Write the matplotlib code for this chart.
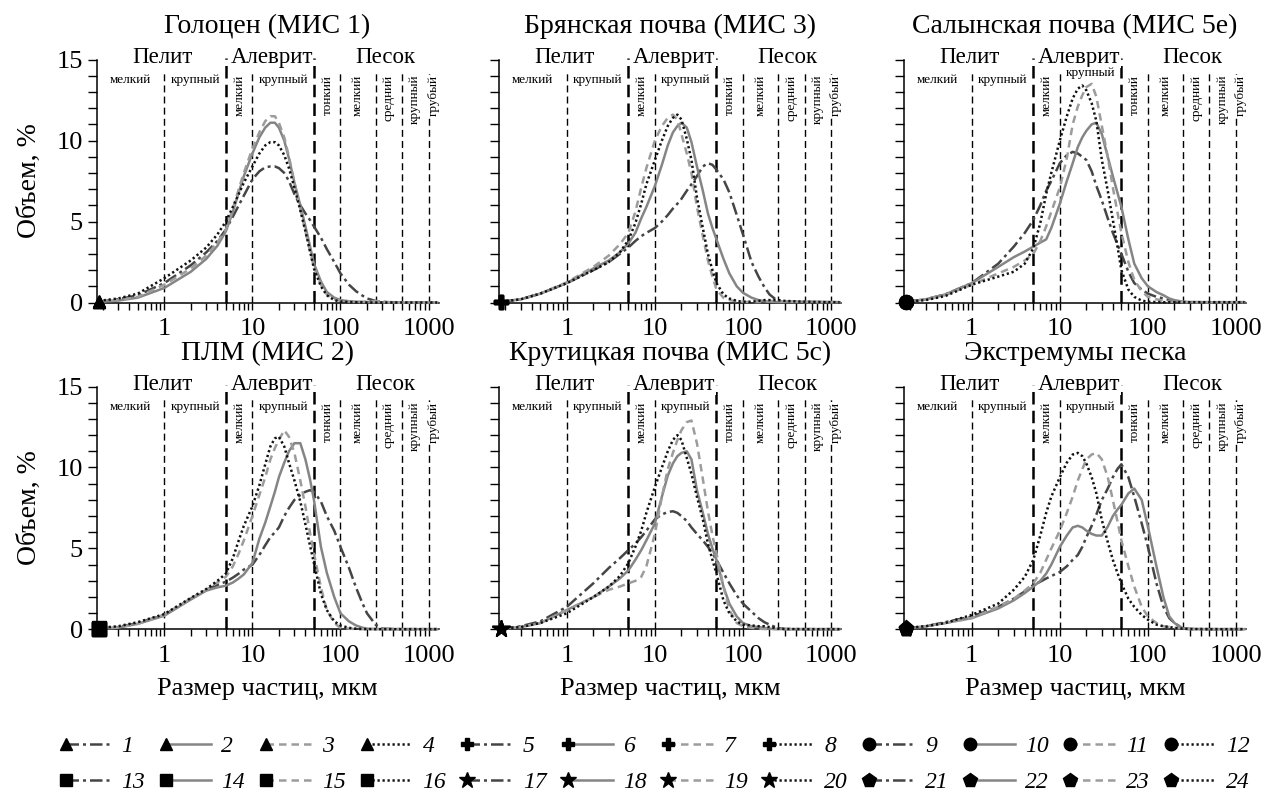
import matplotlib
matplotlib.use('Agg')
import matplotlib.pyplot as plt
from matplotlib.lines import Line2D
from matplotlib.legend_handler import HandlerLine2D
from matplotlib.ticker import FixedLocator, LogLocator, NullFormatter, MultipleLocator

plt.rcParams['font.family'] = ['Liberation Serif', 'DejaVu Serif']

# размер частиц, мкм
size = [0.18, 0.3, 0.5,
        1, 2, 3, 4, 5, 6, 7, 8,
        10, 12, 14, 16, 18, 20, 23, 26, 30, 35, 40, 45, 50, 60, 70, 85,
        100, 125, 150, 175, 200, 250, 300, 500,
        1000, 1250]

# Голоцен (МИС 1)
c01 = [0.05, 0.2, 0.45, 1.2, 2.3, 3.1, 3.8, 4.5, 5.3, 6.0, 6.6,
       7.6, 8.1, 8.35, 8.4, 8.4, 8.3, 8.0, 7.5, 6.7, 6.0, 5.5, 5.1, 4.7, 4.0, 3.3, 2.5,
       1.8, 1.1, 0.7, 0.45, 0.25, 0.1, 0.04, 0.0, 0.0, 0.0]
c02 = [0.05, 0.12, 0.3, 0.9, 1.9, 2.7, 3.5, 4.4, 5.6, 6.8, 7.8,
       9.2, 10.2, 10.8, 11.1, 11.1, 10.8, 10.0, 8.9, 7.4, 6.0, 4.7, 3.5, 2.4, 1.3, 0.65, 0.3,
       0.15, 0.08, 0.05, 0.04, 0.03, 0.02, 0.02, 0.0, 0.0, 0.0]
c03 = [0.06, 0.15, 0.35, 1.1, 2.1, 2.9, 3.7, 4.5, 5.8, 7.0, 8.0,
       9.5, 10.5, 11.2, 11.5, 11.5, 11.1, 10.2, 9.0, 7.4, 5.8, 4.4, 3.2, 2.2, 1.1, 0.5, 0.2,
       0.1, 0.06, 0.04, 0.04, 0.05, 0.1, 0.04, 0.0, 0.0, 0.0]
c04 = [0.1, 0.25, 0.55, 1.5, 2.6, 3.4, 4.2, 5.0, 5.9, 6.7, 7.4,
       8.4, 9.2, 9.7, 9.9, 9.9, 9.7, 9.1, 8.3, 7.1, 5.7, 4.4, 3.2, 2.1, 1.0, 0.45, 0.15,
       0.06, 0.03, 0.02, 0.01, 0.0, 0.0, 0.0, 0.0, 0.0, 0.0]

# Брянская почва (МИС 3)
c05 = [0.05, 0.2, 0.55, 1.2, 2.0, 2.5, 3.0, 3.4, 3.8, 4.1, 4.3,
       4.6, 5.0, 5.4, 5.8, 6.1, 6.4, 6.9, 7.3, 7.8, 8.4, 8.6, 8.5, 8.2, 7.6, 6.8, 5.4,
       4.2, 2.5, 1.6, 0.95, 0.5, 0.08, 0.05, 0.03, 0.02, 0.02]
c06 = [0.05, 0.2, 0.55, 1.2, 2.1, 2.6, 3.1, 3.65, 4.3, 5.2, 5.9,
       7.2, 8.5, 9.7, 10.5, 10.9, 11.1, 10.8, 9.9, 8.4, 6.9, 5.5, 4.6, 3.9, 2.7, 1.8, 1.0,
       0.6, 0.3, 0.15, 0.08, 0.05, 0.03, 0.03, 0.05, 0.03, 0.02]
c07 = [0.05, 0.2, 0.55, 1.25, 2.2, 2.9, 3.6, 4.3, 5.6, 7.1, 8.3,
       10.0, 10.9, 11.4, 11.6, 11.3, 10.4, 9.2, 8.0, 5.9, 4.1, 2.6, 1.6, 0.8, 0.3, 0.15, 0.08,
       0.05, 0.03, 0.03, 0.05, 0.1, 0.1, 0.05, 0.03, 0.02, 0.02]
c08 = [0.05, 0.2, 0.55, 1.2, 2.0, 2.5, 3.1, 3.85, 4.9, 6.1, 7.3,
       8.8, 10.0, 10.9, 11.4, 11.6, 11.3, 10.1, 8.8, 6.5, 4.6, 3.0, 2.0, 1.2, 0.5, 0.25, 0.1,
       0.05, 0.05, 0.1, 0.15, 0.15, 0.15, 0.1, 0.05, 0.02, 0.02]

# Салынская почва (МИС 5е)
c09 = [0.05, 0.2, 0.5, 1.2, 2.4, 3.45, 4.3, 5.1, 6.0, 6.9, 7.5,
       8.6, 9.1, 9.3, 9.2, 9.0, 8.8, 8.1, 7.2, 6.3, 5.2, 4.3, 3.6, 3.0, 1.9, 1.2, 0.8,
       0.55, 0.35, 0.25, 0.15, 0.08, 0.03, 0.02, 0.02, 0.02, 0.02]
c10 = [0.05, 0.2, 0.5, 1.2, 2.2, 2.8, 3.15, 3.45, 3.7, 3.9, 4.6,
       6.1, 7.5, 8.6, 9.6, 10.2, 10.6, 11.0, 11.1, 10.4, 9.0, 7.8, 6.8, 5.9, 3.9, 2.4, 1.5,
       1.0, 0.65, 0.45, 0.25, 0.15, 0.05, 0.03, 0.02, 0.02, 0.02]
c11 = [0.05, 0.2, 0.45, 1.1, 1.8, 2.2, 2.6, 3.0, 3.8, 4.7, 5.6,
       7.1, 8.9, 11.0, 12.1, 12.8, 13.3, 13.5, 12.7, 10.9, 9.0, 7.1, 5.6, 4.3, 2.5, 1.4, 0.7,
       0.35, 0.2, 0.1, 0.06, 0.04, 0.03, 0.02, 0.02, 0.02, 0.02]
c12 = [0.05, 0.15, 0.4, 1.1, 1.6, 1.9, 2.4, 3.35, 4.9, 6.7, 8.0,
       10.0, 11.5, 12.6, 13.2, 13.4, 13.1, 12.3, 11.2, 8.8, 6.9, 5.1, 3.5, 2.0, 0.8, 0.35, 0.12,
       0.05, 0.03, 0.02, 0.02, 0.02, 0.02, 0.02, 0.02, 0.02, 0.02]

# ПЛМ (МИС 2)
c13 = [0.05, 0.15, 0.4, 0.9, 1.9, 2.45, 2.75, 2.95, 3.2, 3.45, 3.7,
       4.0, 4.6, 5.2, 5.7, 6.0, 6.3, 7.0, 7.5, 8.0, 8.3, 8.5, 8.6, 8.5, 7.9, 7.0, 6.1,
       5.1, 3.8, 2.6, 1.7, 1.0, 0.3, 0.05, 0.02, 0.02, 0.02]
c14 = [0.05, 0.12, 0.35, 0.85, 1.85, 2.4, 2.6, 2.7, 2.9, 3.15, 3.4,
       4.1, 5.6, 6.6, 7.6, 8.5, 9.4, 10.3, 11.0, 11.5, 11.5, 10.5, 9.3, 8.0, 5.1, 3.5, 2.0,
       1.0, 0.5, 0.25, 0.12, 0.05, 0.03, 0.02, 0.02, 0.02, 0.02]
c15 = [0.05, 0.12, 0.35, 0.9, 1.9, 2.45, 2.9, 3.25, 3.9, 4.7, 5.5,
       7.0, 8.3, 9.4, 10.5, 11.2, 11.7, 12.3, 11.9, 10.9, 9.2, 7.6, 6.0, 4.7, 2.6, 1.2, 0.4,
       0.1, 0.05, 0.03, 0.02, 0.02, 0.02, 0.02, 0.02, 0.02, 0.02]
c16 = [0.1, 0.2, 0.45, 0.95, 1.95, 2.5, 3.0, 3.45, 4.4, 5.5, 6.4,
       7.6, 8.9, 10.2, 11.3, 11.8, 11.9, 11.3, 10.3, 9.2, 7.9, 6.5, 5.2, 4.1, 2.2, 1.2, 0.5,
       0.25, 0.1, 0.05, 0.03, 0.02, 0.02, 0.02, 0.02, 0.02, 0.02]

# Крутицкая почва (МИС 5с)
c17 = [0.05, 0.2, 0.5, 1.4, 2.85, 3.8, 4.4, 4.9, 5.3, 5.7, 6.1,
       6.8, 7.1, 7.25, 7.3, 7.2, 7.0, 6.7, 6.3, 5.9, 5.5, 5.1, 4.7, 4.3, 3.5, 2.85, 2.1,
       1.6, 1.1, 0.7, 0.45, 0.3, 0.08, 0.03, 0.02, 0.02, 0.02]
c18 = [0.05, 0.15, 0.4, 1.2, 2.0, 2.65, 3.15, 3.65, 4.3, 4.9, 5.5,
       6.55, 8.2, 9.5, 10.25, 10.7, 10.9, 11.0, 10.5, 8.6, 7.2, 5.9, 5.0, 4.3, 2.65, 1.6, 0.8,
       0.4, 0.2, 0.15, 0.1, 0.05, 0.03, 0.02, 0.02, 0.02, 0.02]
c19 = [0.05, 0.15, 0.4, 1.2, 2.0, 2.45, 2.65, 2.85, 3.0, 3.25, 3.9,
       5.9, 8.2, 9.9, 10.9, 11.7, 12.3, 12.8, 12.9, 11.5, 9.3, 7.3, 5.8, 4.7, 2.65, 1.2, 0.4,
       0.2, 0.1, 0.05, 0.03, 0.02, 0.02, 0.02, 0.02, 0.02, 0.02]
c20 = [0.05, 0.15, 0.4, 1.0, 2.0, 2.65, 3.3, 4.1, 5.1, 6.1, 7.2,
       8.8, 10.0, 11.0, 11.7, 12.0, 11.7, 10.6, 9.6, 8.2, 6.8, 5.3, 4.3, 3.45, 1.8, 1.0, 0.5,
       0.3, 0.25, 0.2, 0.2, 0.15, 0.05, 0.03, 0.02, 0.02, 0.02]

# Экстремумы песка
c21 = [0.05, 0.2, 0.45, 0.8, 1.4, 1.9, 2.35, 2.75, 2.95, 3.15, 3.3,
       3.55, 3.9, 4.3, 4.6, 5.1, 5.7, 6.4, 7.1, 8.0, 8.7, 9.4, 9.9, 10.2, 9.4, 8.2, 6.55,
       5.1, 2.85, 1.4, 0.7, 0.4, 0.05, 0.03, 0.02, 0.02, 0.02]
c22 = [0.05, 0.2, 0.4, 0.7, 1.3, 1.8, 2.25, 2.65, 3.0, 3.45, 4.0,
       5.1, 5.8, 6.3, 6.4, 6.3, 6.1, 5.9, 5.8, 5.8, 6.35, 7.0, 7.4, 7.7, 8.4, 8.7, 8.0,
       6.35, 3.9, 2.0, 0.8, 0.4, 0.07, 0.03, 0.02, 0.02, 0.02]
c23 = [0.05, 0.2, 0.4, 0.7, 1.4, 1.9, 2.4, 2.85, 3.5, 4.3, 5.0,
       6.1, 7.2, 8.2, 9.2, 9.9, 10.5, 10.8, 10.9, 10.5, 9.4, 8.0, 6.7, 5.5, 3.9, 2.65, 1.4,
       0.8, 0.4, 0.2, 0.15, 0.1, 0.05, 0.03, 0.02, 0.02, 0.02]
c24 = [0.1, 0.2, 0.4, 0.9, 1.6, 2.45, 3.25, 4.3, 5.8, 7.2, 8.2,
       9.4, 10.3, 10.8, 10.9, 10.7, 10.25, 9.4, 8.4, 6.75, 5.4, 4.3, 3.5, 2.85, 1.9, 1.4, 0.9,
       0.6, 0.3, 0.2, 0.15, 0.1, 0.05, 0.03, 0.02, 0.02, 0.02]

titles = ['Голоцен (МИС 1)', 'Брянская почва (МИС 3)', 'Салынская почва (МИС 5е)',
          'ПЛМ (МИС 2)', 'Крутицкая почва (МИС 5с)', 'Экстремумы песка']
curves = [[c01, c02, c03, c04], [c05, c06, c07, c08], [c09, c10, c11, c12],
          [c13, c14, c15, c16], [c17, c18, c19, c20], [c21, c22, c23, c24]]
markers = ['^', 'P', 'o', 's', '*', 'p']
msizes = [9, 10, 10, 10, 13, 11]

# границы фракций
thin_bounds = [1, 10, 100, 250, 500, 1000]
thick_bounds = [5, 50]
big_labels = [('Пелит', 0.95), ('Алеврит', 16.5), ('Песок', 320)]
small_h = [('мелкий', 0.41), ('крупный', 2.25), ('крупный', 22.4)]
small_v = [('мелкий', 7.1), ('тонкий', 71), ('мелкий', 158), ('средний', 354),
           ('крупный', 707), ('грубый', 1140)]
# на панели Салынской почвы подпись "крупный" приподнята над пиком
lift = [0, 0, 0, 0, 0, 0]
lift[2] = 0.4

styles = [dict(color='#454545', ls=(0, (5, 1.6, 1.2, 1.6))),
          dict(color='#858585', ls='-'),
          dict(color='#9c9c9c', ls=(0, (3, 2))),
          dict(color='#111111', ls=(0, (0.9, 1.1)))]

fig = plt.figure(figsize=(12.65, 7.93), dpi=100)
lefts = [0.0763, 0.3945, 0.7146]
bottoms = [0.6185, 0.2062]
w, h = 0.2704, 0.3064

for i in range(6):
    r, c = divmod(i, 3)
    ax = fig.add_axes([lefts[c], bottoms[r], w, h])
    for k, y in enumerate(curves[i]):
        ax.plot(size, y, lw=1.8, marker=markers[i], ms=msizes[i], mfc='k', mec='k',
                markevery=[0], clip_on=False, zorder=3, **styles[k])
    for b in thin_bounds:
        ax.plot([b, b], [0, 14.3], color='k', lw=1.0, ls=(0, (5, 3)), zorder=1)
    for b in thick_bounds:
        ax.plot([b, b], [0, 15.1], color='k', lw=1.8, ls=(0, (5, 2.5)), zorder=1, clip_on=False)
    for t, xv in big_labels:
        ax.text(xv, 15.15, t, ha='center', va='center', fontsize=16.5,
                bbox=dict(fc='white', ec='none', pad=0.5))
    for j, (t, xv) in enumerate(small_h):
        dy = lift[i] if j == 2 else 0
        ax.text(xv, 13.75 + dy, t, ha='center', va='center', fontsize=9.5,
                bbox=dict(fc='white', ec='none', pad=0.3))
    for t, xv in small_v:
        ax.text(xv, 14.05, t, ha='center', va='top', rotation=90, fontsize=9.5,
                bbox=dict(fc='white', ec='none', pad=0.3))
    ax.text(0.5, 1.135, titles[i], transform=ax.transAxes, ha='center', va='center',
            fontsize=20)

    ax.set_xscale('log')
    ax.set_xlim(0.17, 1300)
    ax.set_ylim(0, 15)
    ax.xaxis.set_major_locator(FixedLocator([1, 10, 100, 1000]))
    ax.set_xticklabels(['1', '10', '100', '1000'])
    ax.xaxis.set_minor_locator(LogLocator(base=10, subs=range(2, 10)))
    ax.xaxis.set_minor_formatter(NullFormatter())
    ax.yaxis.set_major_locator(FixedLocator([0, 5, 10, 15]))
    ax.yaxis.set_minor_locator(MultipleLocator(1))
    ax.tick_params(axis='both', which='both', direction='out', width=1.0, labelsize=19)
    ax.tick_params(axis='y', which='both', length=6.5)
    ax.tick_params(axis='x', which='both', length=5)
    ax.tick_params(axis='x', pad=6)
    for s in ['top', 'right']:
        ax.spines[s].set_visible(False)
    for s in ['left', 'bottom']:
        ax.spines[s].set_linewidth(1.1)
    if c == 0:
        ax.set_ylabel('Объем, %', fontsize=20, labelpad=10)
    else:
        ax.tick_params(axis='y', labelleft=False)
    if r == 1:
        ax.set_xlabel('Размер частиц, мкм', fontsize=19, labelpad=8)


class LeftMarkerHandler(HandlerLine2D):
    def create_artists(self, legend, orig_handle, xdescent, ydescent, width, height,
                       fontsize, trans):
        arts = super().create_artists(legend, orig_handle, xdescent, ydescent, width,
                                      height, fontsize, trans)
        for a in arts:
            a.set_markevery([0])
        return arts


handles, labels = [], []
for n in range(24):
    g, k = divmod(n, 4)
    handles.append(Line2D([], [], lw=1.8, marker=markers[g], ms=msizes[g] - 1,
                          mfc='k', mec='k', **styles[k]))
    labels.append(str(n + 1))
order = []
for col in range(12):
    order += [col, col + 12]
fig.legend([handles[j] for j in order], [labels[j] for j in order], ncol=12,
           loc='center', bbox_to_anchor=(0.52, 0.036), frameon=False, numpoints=1,
           handlelength=1.9, handletextpad=0.45, columnspacing=0.9, labelspacing=0.6,
           prop={'style': 'italic', 'size': 17},
           handler_map={Line2D: LeftMarkerHandler()})

fig.savefig('out.png', dpi=100)
